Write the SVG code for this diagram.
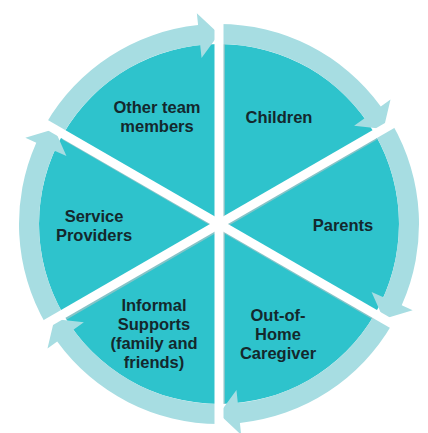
<svg xmlns="http://www.w3.org/2000/svg" width="428" height="433" viewBox="0 0 428 433">
<style>
.pie{fill:#2EC3CC;}
.ring{fill:#A7DDE2;}
.lbl{font-family:"Liberation Sans",Arial,sans-serif;font-weight:700;font-size:16.5px;fill:#14282D;text-anchor:middle;}
.div{stroke:#FFFFFF;stroke-width:9;stroke-linecap:butt;}
.divs{stroke:#BFC6C7;stroke-width:9;opacity:0.6;}
</style>
<rect width="428" height="433" fill="#FFFFFF"/>
<g id="node-children">
<path class="pie" d="M219,224 L219,44 A180,180 0 0 1 374.88,134 Z"/>
<text class="lbl" x="279" y="123">Children</text>
</g>
<g id="node-parents">
<path class="pie" d="M219,224 L374.88,134 A180,180 0 0 1 374.88,314 Z"/>
<text class="lbl" x="343" y="231">Parents</text>
</g>
<g id="node-out-of-home">
<path class="pie" d="M219,224 L374.88,314 A180,180 0 0 1 219,404 Z"/>
<text class="lbl" x="278" y="321">Out-of-</text>
<text class="lbl" x="278" y="340">Home</text>
<text class="lbl" x="278" y="359">Caregiver</text>
</g>
<g id="node-informal">
<path class="pie" d="M219,224 L219,404 A180,180 0 0 1 63.12,314 Z"/>
<text class="lbl" x="154" y="311">Informal</text>
<text class="lbl" x="154" y="330">Supports</text>
<text class="lbl" x="154" y="349">(family and</text>
<text class="lbl" x="154" y="368">friends)</text>
</g>
<g id="node-service">
<path class="pie" d="M219,224 L63.12,314 A180,180 0 0 1 63.12,134 Z"/>
<text class="lbl" x="94" y="222">Service</text>
<text class="lbl" x="94" y="241">Providers</text>
</g>
<g id="node-other-team">
<path class="pie" d="M219,224 L63.12,134 A180,180 0 0 1 219,44 Z"/>
<text class="lbl" x="157" y="113">Other team</text>
<text class="lbl" x="157" y="132">members</text>
</g>
<g id="connectors">
<path class="ring" d="M219,24 A200,200 0 0 1 380.80,106.44 L390.51,99.39 L383.55,129 L354.11,125.84 L364.62,118.20 A180,180 0 0 0 219,44 Z"/>
<path class="ring" d="M392.21,124 A200,200 0 0 1 401.71,305.35 L412.67,310.23 L383.55,319 L371.56,291.93 L383.44,297.21 A180,180 0 0 0 374.88,134 Z"/>
<path class="ring" d="M392.21,324 A200,200 0 0 1 239.91,422.90 L241.16,434.84 L219,414 L236.46,390.08 L237.82,403.01 A180,180 0 0 0 374.88,314 Z"/>
<path class="ring" d="M219,424 A200,200 0 0 1 57.20,341.56 L47.49,348.61 L54.45,319 L83.89,322.16 L73.38,329.80 A180,180 0 0 0 219,404 Z"/>
<path class="ring" d="M45.79,324 A200,200 0 0 1 36.29,142.65 L25.33,137.77 L54.45,129 L66.44,156.07 L54.56,150.79 A180,180 0 0 0 63.12,314 Z"/>
<path class="ring" d="M45.79,124 A200,200 0 0 1 198.09,25.10 L196.84,13.16 L219,34 L201.54,57.92 L200.18,44.99 A180,180 0 0 0 63.12,134 Z"/>
</g>
<g id="dividers">
<line class="divs" x1="220.5" y1="44" x2="220.5" y2="404"/>
<line class="divs" x1="375" y1="135.5" x2="64.5" y2="315.5"/>
<line class="divs" x1="375" y1="315.5" x2="64.5" y2="135.5"/>
<line class="div" x1="219" y1="8" x2="219" y2="440"/>
<line class="div" x1="405" y1="116.6" x2="33" y2="331.4"/>
<line class="div" x1="405" y1="331.4" x2="33" y2="116.6"/>
</g>
</svg>
